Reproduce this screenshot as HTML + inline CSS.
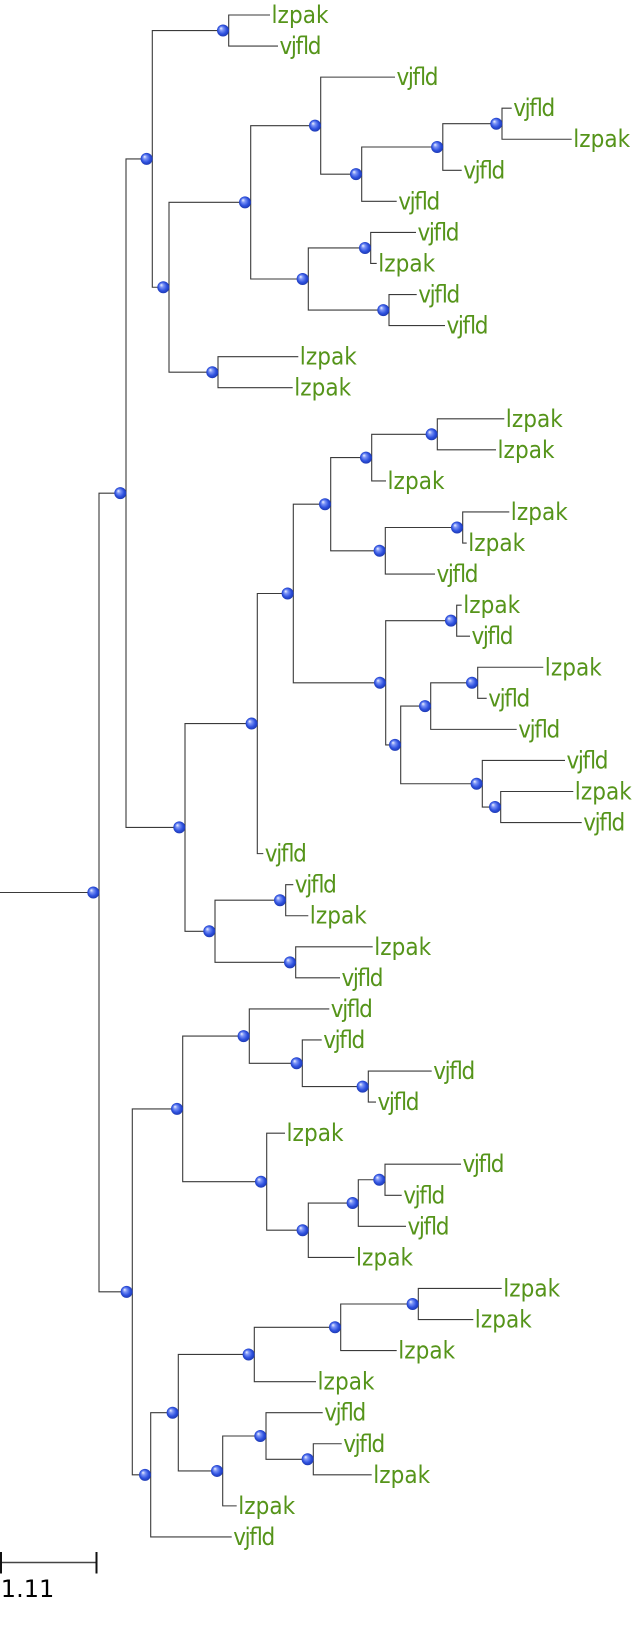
<!DOCTYPE html>
<html>
<head>
<meta charset="utf-8">
<style>
  html, body { margin: 0; padding: 0; background: #ffffff; }
  svg { display: block; }
  .t { font-family: "DejaVu Sans Condensed", "DejaVu Sans", "Liberation Sans", sans-serif; font-stretch: condensed; font-size: 24px; fill: #55941a; }
  .e { fill: none; stroke: #3a3a3a; stroke-width: 1.1; }
</style>
</head>
<body>
<svg width="637" height="1650" viewBox="0 0 637 1650" xmlns="http://www.w3.org/2000/svg">
<defs>
  <radialGradient id="g" cx="0.5" cy="0.5" r="0.55" fx="0.32" fy="0.3">
    <stop offset="0" stop-color="#f4f7ff"/>
    <stop offset="0.28" stop-color="#7d95f6"/>
    <stop offset="0.65" stop-color="#2f52e0"/>
    <stop offset="1" stop-color="#1a34a8"/>
  </radialGradient>
</defs>
<rect width="637" height="1650" fill="#ffffff"/>

<g class="e">
<path d="M0 892.51 H99"/>
<path d="M126 493.16 H99 V1291.86 H132.3"/>
<path d="M152.3 158.9 H126 V827.42 H185"/>
<path d="M228.7 30.53 H152.3 V287.26 H169"/>
<path d="M270 15 H228.7 V46.06 H278"/>
<path d="M250.7 202.33 H169 V372.19 H218"/>
<path d="M320.7 125.65 H250.7 V279.01 H308.3"/>
<path d="M395 77.12 H320.7 V174.18 H361.7"/>
<path d="M442.8 147 H361.7 V201.36 H396.7"/>
<path d="M502 123.71 H442.8 V170.3 H461.7"/>
<path d="M511.7 108.18 H502 V139.24 H571.7"/>
<path d="M370.7 247.95 H308.3 V310.07 H389"/>
<path d="M416 232.42 H370.7 V263.48 H376.7"/>
<path d="M416.7 294.54 H389 V325.6 H445"/>
<path d="M298.3 356.66 H218 V387.72 H292.7"/>
<path d="M257.3 723.56 H185 V931.27 H215"/>
<path d="M293.3 593.5 H257.3 V853.62 H263.3"/>
<path d="M330.7 504.2 H293.3 V682.79 H385.7"/>
<path d="M371.7 457.6 H330.7 V550.79 H385.3"/>
<path d="M437.3 434.31 H371.7 V480.9 H386"/>
<path d="M504.3 418.78 H437.3 V449.84 H496"/>
<path d="M462.7 527.49 H385.3 V574.08 H435"/>
<path d="M509.3 511.96 H462.7 V543.02 H466.7"/>
<path d="M456.7 620.67 H385.7 V744.91 H400.7"/>
<path d="M461.7 605.14 H456.7 V636.2 H470"/>
<path d="M430.7 706.09 H400.7 V783.74 H482.3"/>
<path d="M477.7 682.79 H430.7 V729.38 H516.7"/>
<path d="M543.3 667.26 H477.7 V698.32 H486.7"/>
<path d="M565 760.44 H482.3 V807.03 H500.7"/>
<path d="M573.3 791.5 H500.7 V822.56 H581.7"/>
<path d="M285.7 900.21 H215 V962.33 H295.7"/>
<path d="M293.3 884.68 H285.7 V915.74 H308.3"/>
<path d="M372.7 946.8 H295.7 V977.86 H340"/>
<path d="M182.7 1108.9 H132.3 V1474.82 H150.7"/>
<path d="M249.3 1036.1 H182.7 V1181.69 H266.7"/>
<path d="M329.3 1008.92 H249.3 V1063.28 H302.3"/>
<path d="M321.7 1039.98 H302.3 V1086.57 H368.3"/>
<path d="M431.7 1071.04 H368.3 V1102.1 H376"/>
<path d="M285 1133.16 H266.7 V1230.22 H308.3"/>
<path d="M358.3 1203.05 H308.3 V1257.4 H354.5"/>
<path d="M385 1179.75 H358.3 V1226.34 H406"/>
<path d="M461 1164.22 H385 V1195.28 H401.7"/>
<path d="M178.3 1412.7 H150.7 V1536.94 H231.7"/>
<path d="M254.3 1354.46 H178.3 V1470.94 H222.7"/>
<path d="M340.7 1327.29 H254.3 V1381.64 H316"/>
<path d="M418.3 1303.99 H340.7 V1350.58 H396.7"/>
<path d="M501.7 1288.46 H418.3 V1319.52 H473.3"/>
<path d="M266 1436 H222.7 V1505.88 H236.7"/>
<path d="M322.7 1412.7 H266 V1459.29 H313.3"/>
<path d="M341.7 1443.76 H313.3 V1474.82 H371.7"/>
</g>

<g fill="url(#g)">
<circle cx="93.3" cy="892.51" r="6"/>
<circle cx="120.3" cy="493.16" r="6"/>
<circle cx="146.6" cy="158.9" r="6"/>
<circle cx="223" cy="30.53" r="6"/>
<circle cx="163.3" cy="287.26" r="6"/>
<circle cx="245" cy="202.33" r="6"/>
<circle cx="315" cy="125.65" r="6"/>
<circle cx="356" cy="174.18" r="6"/>
<circle cx="437.1" cy="147" r="6"/>
<circle cx="496.3" cy="123.71" r="6"/>
<circle cx="302.6" cy="279.01" r="6"/>
<circle cx="365" cy="247.95" r="6"/>
<circle cx="383.3" cy="310.07" r="6"/>
<circle cx="212.3" cy="372.19" r="6"/>
<circle cx="179.3" cy="827.42" r="6"/>
<circle cx="251.6" cy="723.56" r="6"/>
<circle cx="287.6" cy="593.5" r="6"/>
<circle cx="325" cy="504.2" r="6"/>
<circle cx="366" cy="457.6" r="6"/>
<circle cx="431.6" cy="434.31" r="6"/>
<circle cx="379.6" cy="550.79" r="6"/>
<circle cx="457" cy="527.49" r="6"/>
<circle cx="380" cy="682.79" r="6"/>
<circle cx="451" cy="620.67" r="6"/>
<circle cx="395" cy="744.91" r="6"/>
<circle cx="425" cy="706.09" r="6"/>
<circle cx="472" cy="682.79" r="6"/>
<circle cx="476.6" cy="783.74" r="6"/>
<circle cx="495" cy="807.03" r="6"/>
<circle cx="209.3" cy="931.27" r="6"/>
<circle cx="280" cy="900.21" r="6"/>
<circle cx="290" cy="962.33" r="6"/>
<circle cx="126.6" cy="1291.86" r="6"/>
<circle cx="177" cy="1108.9" r="6"/>
<circle cx="243.6" cy="1036.1" r="6"/>
<circle cx="296.6" cy="1063.28" r="6"/>
<circle cx="362.6" cy="1086.57" r="6"/>
<circle cx="261" cy="1181.69" r="6"/>
<circle cx="302.6" cy="1230.22" r="6"/>
<circle cx="352.6" cy="1203.05" r="6"/>
<circle cx="379.3" cy="1179.75" r="6"/>
<circle cx="145" cy="1474.82" r="6"/>
<circle cx="172.6" cy="1412.7" r="6"/>
<circle cx="248.6" cy="1354.46" r="6"/>
<circle cx="335" cy="1327.29" r="6"/>
<circle cx="412.6" cy="1303.99" r="6"/>
<circle cx="217" cy="1470.94" r="6"/>
<circle cx="260.3" cy="1436" r="6"/>
<circle cx="307.6" cy="1459.29" r="6"/>
</g>

<g class="t">
<text x="271.5" y="23" textLength="57" lengthAdjust="spacing">lzpak</text>
<text x="279.5" y="54.06" textLength="42" lengthAdjust="spacing">vjfld</text>
<text x="396.5" y="85.12" textLength="42" lengthAdjust="spacing">vjfld</text>
<text x="513.2" y="116.18" textLength="42" lengthAdjust="spacing">vjfld</text>
<text x="573.2" y="147.24" textLength="57" lengthAdjust="spacing">lzpak</text>
<text x="463.2" y="178.3" textLength="42" lengthAdjust="spacing">vjfld</text>
<text x="398.2" y="209.36" textLength="42" lengthAdjust="spacing">vjfld</text>
<text x="417.5" y="240.42" textLength="42" lengthAdjust="spacing">vjfld</text>
<text x="378.2" y="271.48" textLength="57" lengthAdjust="spacing">lzpak</text>
<text x="418.2" y="302.54" textLength="42" lengthAdjust="spacing">vjfld</text>
<text x="446.5" y="333.6" textLength="42" lengthAdjust="spacing">vjfld</text>
<text x="299.8" y="364.66" textLength="57" lengthAdjust="spacing">lzpak</text>
<text x="294.2" y="395.72" textLength="57" lengthAdjust="spacing">lzpak</text>
<text x="505.8" y="426.78" textLength="57" lengthAdjust="spacing">lzpak</text>
<text x="497.5" y="457.84" textLength="57" lengthAdjust="spacing">lzpak</text>
<text x="387.5" y="488.9" textLength="57" lengthAdjust="spacing">lzpak</text>
<text x="510.8" y="519.96" textLength="57" lengthAdjust="spacing">lzpak</text>
<text x="468.2" y="551.02" textLength="57" lengthAdjust="spacing">lzpak</text>
<text x="436.5" y="582.08" textLength="42" lengthAdjust="spacing">vjfld</text>
<text x="463.2" y="613.14" textLength="57" lengthAdjust="spacing">lzpak</text>
<text x="471.5" y="644.2" textLength="42" lengthAdjust="spacing">vjfld</text>
<text x="544.8" y="675.26" textLength="57" lengthAdjust="spacing">lzpak</text>
<text x="488.2" y="706.32" textLength="42" lengthAdjust="spacing">vjfld</text>
<text x="518.2" y="737.38" textLength="42" lengthAdjust="spacing">vjfld</text>
<text x="566.5" y="768.44" textLength="42" lengthAdjust="spacing">vjfld</text>
<text x="574.8" y="799.5" textLength="57" lengthAdjust="spacing">lzpak</text>
<text x="583.2" y="830.56" textLength="42" lengthAdjust="spacing">vjfld</text>
<text x="264.8" y="861.62" textLength="42" lengthAdjust="spacing">vjfld</text>
<text x="294.8" y="892.68" textLength="42" lengthAdjust="spacing">vjfld</text>
<text x="309.8" y="923.74" textLength="57" lengthAdjust="spacing">lzpak</text>
<text x="374.2" y="954.8" textLength="57" lengthAdjust="spacing">lzpak</text>
<text x="341.5" y="985.86" textLength="42" lengthAdjust="spacing">vjfld</text>
<text x="330.8" y="1016.92" textLength="42" lengthAdjust="spacing">vjfld</text>
<text x="323.2" y="1047.98" textLength="42" lengthAdjust="spacing">vjfld</text>
<text x="433.2" y="1079.04" textLength="42" lengthAdjust="spacing">vjfld</text>
<text x="377.5" y="1110.1" textLength="42" lengthAdjust="spacing">vjfld</text>
<text x="286.5" y="1141.16" textLength="57" lengthAdjust="spacing">lzpak</text>
<text x="462.5" y="1172.22" textLength="42" lengthAdjust="spacing">vjfld</text>
<text x="403.2" y="1203.28" textLength="42" lengthAdjust="spacing">vjfld</text>
<text x="407.5" y="1234.34" textLength="42" lengthAdjust="spacing">vjfld</text>
<text x="356" y="1265.4" textLength="57" lengthAdjust="spacing">lzpak</text>
<text x="503.2" y="1296.46" textLength="57" lengthAdjust="spacing">lzpak</text>
<text x="474.8" y="1327.52" textLength="57" lengthAdjust="spacing">lzpak</text>
<text x="398.2" y="1358.58" textLength="57" lengthAdjust="spacing">lzpak</text>
<text x="317.5" y="1389.64" textLength="57" lengthAdjust="spacing">lzpak</text>
<text x="324.2" y="1420.7" textLength="42" lengthAdjust="spacing">vjfld</text>
<text x="343.2" y="1451.76" textLength="42" lengthAdjust="spacing">vjfld</text>
<text x="373.2" y="1482.82" textLength="57" lengthAdjust="spacing">lzpak</text>
<text x="238.2" y="1513.88" textLength="57" lengthAdjust="spacing">lzpak</text>
<text x="233.2" y="1544.94" textLength="42" lengthAdjust="spacing">vjfld</text>
</g>

<g>
  <path d="M0.5 1562.5 H97" fill="none" stroke="#444" stroke-width="1.5"/>
  <path d="M1 1552 V1573.5 M96.5 1552 V1573.5" fill="none" stroke="#111" stroke-width="2"/>
  <text x="0.8" y="1597" font-family="DejaVu Sans, Liberation Sans, sans-serif" font-size="24" fill="#000">1.11</text>
</g>
</svg>
</body>
</html>
